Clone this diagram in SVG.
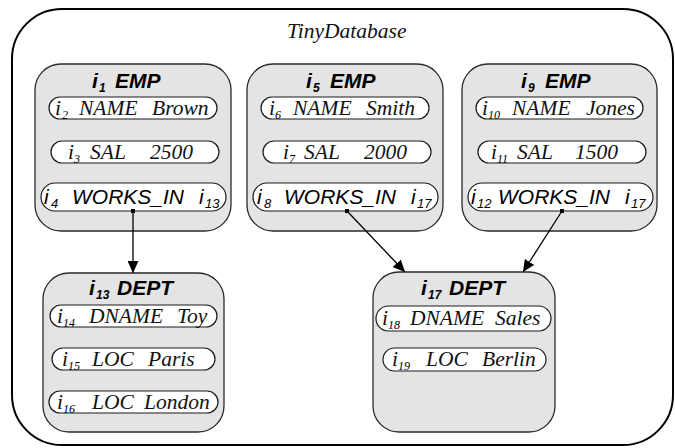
<svg xmlns="http://www.w3.org/2000/svg" width="675" height="448" viewBox="0 0 675 448">
<style>
.frame{fill:none;stroke:#000;stroke-width:2}
.box{fill:#e4e4e4;stroke:#2a2a2a;stroke-width:1.3}
.pill{fill:#fff;stroke:#1a1a1a;stroke-width:1.2}
.ser{font-family:'Liberation Serif','Times New Roman',Times,'DejaVu Serif',serif;font-style:italic;font-size:21.5px;fill:#111}
.sans{font-family:'Liberation Sans',Arial,sans-serif;font-style:italic;font-size:21px;fill:#000}
.title{font-family:'Liberation Sans',Arial,sans-serif;font-style:italic;font-weight:bold;font-size:21px;fill:#000}
.s{font-size:12px;fill:#000}
.ss{font-size:13px}
.conn{stroke:#000;stroke-width:1.3;fill:none}
</style>
<defs>
<marker id="ah" markerWidth="12" markerHeight="11" refX="12" refY="5.5" orient="auto" markerUnits="userSpaceOnUse">
<path d="M0,0 L12,5.5 L0,11 Z" fill="#000"/>
</marker>
</defs>

<rect class="frame" x="12" y="9" width="661" height="436" rx="50"/>
<text class="ser" x="287" y="38">TinyDatabase</text>

<g id="emp1">
<rect class="box" x="35" y="64" width="196" height="167" rx="26"/>
<text class="title" y="88"><tspan x="92">i</tspan><tspan class="s" x="99" y="92">1</tspan><tspan x="115" y="88">EMP</tspan></text>
<rect class="pill" x="49" y="97" width="168" height="22" rx="11"/>
<text class="ser" y="115"><tspan x="55">i</tspan><tspan class="s" x="62" y="119">2</tspan><tspan x="79" y="115">NAME</tspan><tspan x="152">Brown</tspan></text>
<rect class="pill" x="51" y="141" width="168" height="22" rx="11"/>
<text class="ser" y="159"><tspan x="68">i</tspan><tspan class="s" x="74" y="163">3</tspan><tspan x="90" y="159">SAL</tspan><tspan x="150">2500</tspan></text>
<rect class="pill" x="41" y="183" width="185" height="28" rx="14"/>
<text class="sans" y="204"><tspan x="44">i</tspan><tspan class="ss" x="51" y="208">4</tspan><tspan x="72" y="204">WORKS_IN</tspan><tspan x="199">i</tspan><tspan class="ss" x="205" y="208">13</tspan></text>
</g>

<g id="emp5">
<rect class="box" x="247" y="64" width="196" height="167" rx="26"/>
<text class="title" y="88"><tspan x="306">i</tspan><tspan class="s" x="313" y="92">5</tspan><tspan x="330" y="88">EMP</tspan></text>
<rect class="pill" x="261" y="97" width="168" height="22" rx="11"/>
<text class="ser" y="115"><tspan x="269">i</tspan><tspan class="s" x="275" y="119">6</tspan><tspan x="293" y="115">NAME</tspan><tspan x="366">Smith</tspan></text>
<rect class="pill" x="263" y="141" width="168" height="22" rx="11"/>
<text class="ser" y="159"><tspan x="283">i</tspan><tspan class="s" x="289" y="163">7</tspan><tspan x="304" y="159">SAL</tspan><tspan x="364">2000</tspan></text>
<rect class="pill" x="253" y="183" width="185" height="28" rx="14"/>
<text class="sans" y="204"><tspan x="257">i</tspan><tspan class="ss" x="264" y="208">8</tspan><tspan x="284" y="204">WORKS_IN</tspan><tspan x="411">i</tspan><tspan class="ss" x="417" y="208">17</tspan></text>
</g>

<g id="emp9">
<rect class="box" x="462" y="64" width="195" height="167" rx="26"/>
<text class="title" y="88"><tspan x="521">i</tspan><tspan class="s" x="528" y="92">9</tspan><tspan x="545" y="88">EMP</tspan></text>
<rect class="pill" x="476" y="97" width="167" height="22" rx="11"/>
<text class="ser" y="115"><tspan x="482">i</tspan><tspan class="s" x="488" y="119">10</tspan><tspan x="512" y="115">NAME</tspan><tspan x="586">Jones</tspan></text>
<rect class="pill" x="478" y="141" width="168" height="22" rx="11"/>
<text class="ser" y="159"><tspan x="491">i</tspan><tspan class="s" x="497" y="163">11</tspan><tspan x="517" y="159">SAL</tspan><tspan x="575">1500</tspan></text>
<rect class="pill" x="468" y="183" width="185" height="28" rx="14"/>
<text class="sans" y="204"><tspan x="471">i</tspan><tspan class="ss" x="477" y="208">12</tspan><tspan x="498" y="204">WORKS_IN</tspan><tspan x="625">i</tspan><tspan class="ss" x="631" y="208">17</tspan></text>
</g>

<g id="dept13">
<rect class="box" x="43" y="273" width="181" height="159" rx="26"/>
<text class="title" y="295"><tspan x="89">i</tspan><tspan class="s" x="96" y="299">13</tspan><tspan x="117" y="295">DEPT</tspan></text>
<rect class="pill" x="50" y="305" width="167" height="22" rx="11"/>
<text class="ser" y="323"><tspan x="57">i</tspan><tspan class="s" x="63" y="327">14</tspan><tspan x="89" y="323">DNAME</tspan><tspan x="177">Toy</tspan></text>
<rect class="pill" x="52" y="348" width="163" height="22" rx="11"/>
<text class="ser" y="366"><tspan x="62">i</tspan><tspan class="s" x="68" y="370">15</tspan><tspan x="92" y="366">LOC</tspan><tspan x="148">Paris</tspan></text>
<rect class="pill" x="49" y="391" width="169" height="22" rx="11"/>
<text class="ser" y="409"><tspan x="57">i</tspan><tspan class="s" x="63" y="413">16</tspan><tspan x="92" y="409">LOC</tspan><tspan x="144">London</tspan></text>
</g>

<g id="dept17">
<rect class="box" x="373" y="272" width="182" height="160" rx="26"/>
<text class="title" y="295"><tspan x="421">i</tspan><tspan class="s" x="428" y="299">17</tspan><tspan x="449" y="295">DEPT</tspan></text>
<rect class="pill" x="376" y="306" width="175" height="25" rx="12.5"/>
<text class="ser" y="325"><tspan x="382">i</tspan><tspan class="s" x="388" y="329">18</tspan><tspan x="410" y="325">DNAME</tspan><tspan x="495">Sales</tspan></text>
<rect class="pill" x="383" y="348" width="163" height="23" rx="11.5"/>
<text class="ser" y="366"><tspan x="392">i</tspan><tspan class="s" x="398" y="370">19</tspan><tspan x="426" y="366">LOC</tspan><tspan x="482">Berlin</tspan></text>
</g>

<g id="connectors">
<rect x="131" y="209" width="4" height="4" fill="#000"/>
<line class="conn" x1="133" y1="211" x2="133" y2="273" marker-end="url(#ah)"/>
<rect x="345" y="209" width="4" height="4" fill="#000"/>
<line class="conn" x1="347" y1="211" x2="405" y2="272" marker-end="url(#ah)"/>
<rect x="560" y="209" width="4" height="4" fill="#000"/>
<line class="conn" x1="562" y1="211" x2="523" y2="272" marker-end="url(#ah)"/>
</g>
</svg>
